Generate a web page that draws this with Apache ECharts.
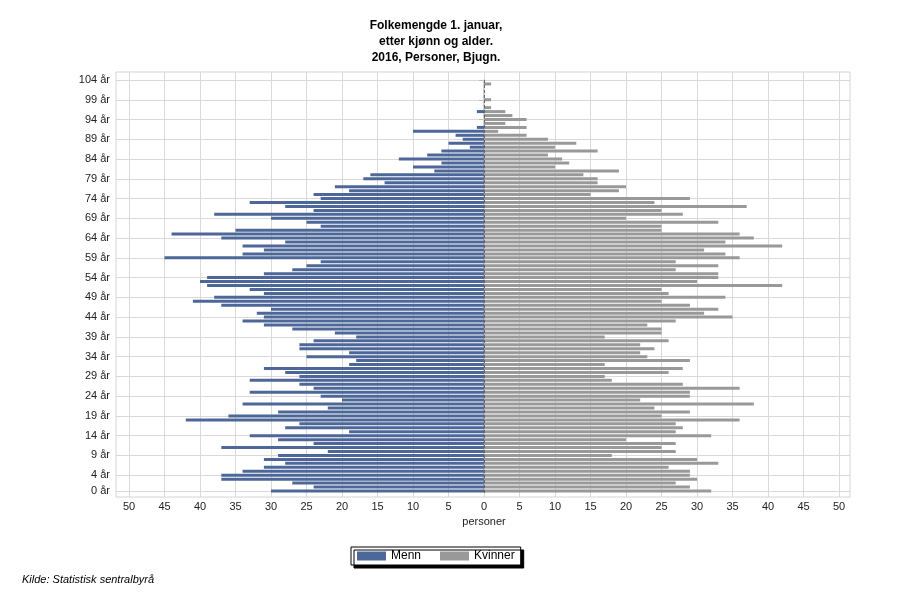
<!DOCTYPE html>
<html>
<head>
<meta charset="utf-8">
<script src="https://cdn.jsdelivr.net/npm/echarts@6/dist/echarts.min.js"></script>
<style>html,body{margin:0;padding:0;background:#fff}#c{width:900px;height:600px}</style>
</head>
<body>
<div id="c"></div>
<script>
// Ages 0..104 (bottom to top)
const ages = [];
for (let a = 0; a <= 104; a++) ages.push(a + ' år');

const menn = [30,24,27,37,37,34,31,28,31,29,22,37,24,29,33,19,28,26,42,36,
29,22,34,20,23,33,24,26,33,26,28,31,19,18,25,19,26,26,24,18,
21,27,31,34,31,32,30,37,41,38,31,33,39,40,39,31,27,25,23,45,
34,31,34,28,37,44,35,23,25,30,38,24,28,33,23,24,19,21,14,17,
16,7,10,6,12,8,6,2,5,3,4,10,1,0,0,0,1,0,0,0,
0,0,0,0,0];

const kvinner = [32,29,27,30,29,29,26,33,30,18,27,25,27,20,32,27,28,27,36,25,
29,24,38,22,29,29,36,28,18,17,26,28,17,29,23,22,24,22,26,17,
25,25,23,27,35,31,33,29,25,34,26,25,42,30,33,33,27,33,27,36,
34,31,42,34,38,36,25,25,33,20,28,25,37,24,29,15,19,20,16,16,
14,19,10,12,11,9,16,10,13,9,6,2,6,3,6,4,3,1,0,1,
0,0,0,1,0];

const title = 'Folkemengde 1. januar,\netter kjønn og alder.\n2016, Personer, Bjugn.';
const source = 'Kilde: Statistisk sentralbyrå';

const FONT = 'Liberation Sans, Arial, sans-serif';
const showIdx = (i) => i === 0 || (104 - i) % 5 === 0;

const chart = echarts.init(document.getElementById('c'), null, {renderer: 'canvas'});
chart.setOption({
  backgroundColor: '#fff',
  animation: false,
  textStyle: {fontFamily: FONT},
  graphic: [
    {type: 'rect', z: -10, shape: {x: 116, y: 72, width: 734, height: 425},
     style: {fill: '#fff', stroke: '#d4d4d4', lineWidth: 1}},
    {type: 'text', x: 436, y: 18, style: {text: title, fill: '#000', font: 'bold 12px ' + FONT,
     textAlign: 'center', lineHeight: 16}},
    {type: 'text', x: 22, y: 574, style: {text: source, fill: '#000', font: 'italic 11px ' + FONT}}
  ],
  legend: {
    data: ['Menn', 'Kvinner'],
    left: 351, top: 547,
    orient: 'horizontal',
    padding: [3, 6, 3, 6],
    itemWidth: 29, itemHeight: 9, itemGap: 19,
    backgroundColor: '#fff',
    borderColor: '#000', borderWidth: 1,
    shadowColor: '#000', shadowBlur: 0, shadowOffsetX: 3, shadowOffsetY: 3,
    icon: 'rect',
    textStyle: {fontSize: 12, color: '#000', fontFamily: FONT, padding: [0, 0, 0, 0]}
  },
  grid: [
    {left: 116, right: 50, top: 80, bottom: 109, containLabel: false},
    {left: 129, right: 61, top: 78, bottom: 107, containLabel: false},
    {left: 129, right: 61, top: 72, bottom: 103, containLabel: false}
  ],
  xAxis: [
    {gridIndex: 0, type: 'value', show: false, min: -1, max: 1},
    {gridIndex: 1, type: 'value', show: false, min: -50, max: 50},
    {gridIndex: 2, type: 'value', min: -50, max: 50, interval: 5,
     axisLine: {show: false}, axisTick: {show: false},
     axisLabel: {formatter: v => Math.abs(v), color: '#222', fontSize: 11, margin: 4},
     splitLine: {show: true, lineStyle: {color: '#d9d9d9', width: 1}},
     name: 'personer', nameLocation: 'middle', nameGap: 19,
     nameTextStyle: {color: '#222', fontSize: 11}}
  ],
  yAxis: [
    {gridIndex: 0, type: 'category', data: ages, boundaryGap: false,
     axisLine: {show: true, lineStyle: {color: '#cfcfcf'}},
     axisTick: {show: true, length: 4, interval: showIdx, lineStyle: {color: '#bbb'}},
     axisLabel: {interval: showIdx, color: '#222', fontSize: 11, margin: 6},
     splitLine: {show: true, interval: showIdx, lineStyle: {color: '#d9d9d9', width: 1}}},
    {gridIndex: 1, type: 'category', data: ages, boundaryGap: true, show: false},
    {gridIndex: 2, type: 'value', show: false, min: 0, max: 1, splitLine: {show: false}}
  ],
  series: [
    {name: 'Menn', type: 'bar', xAxisIndex: 1, yAxisIndex: 1,
     data: menn.map(v => -v), barWidth: 3, barGap: '-100%',
     itemStyle: {color: '#4d6799'},
     markLine: {silent: true, symbol: 'none', label: {show: false},
       lineStyle: {color: '#666', type: [3, 2], width: 1}, data: [{xAxis: 0}]}},
    {name: 'Kvinner', type: 'bar', xAxisIndex: 1, yAxisIndex: 1,
     data: kvinner, barWidth: 3, barGap: '-100%',
     itemStyle: {color: '#999999'}}
  ]
});
</script>
</body>
</html>
